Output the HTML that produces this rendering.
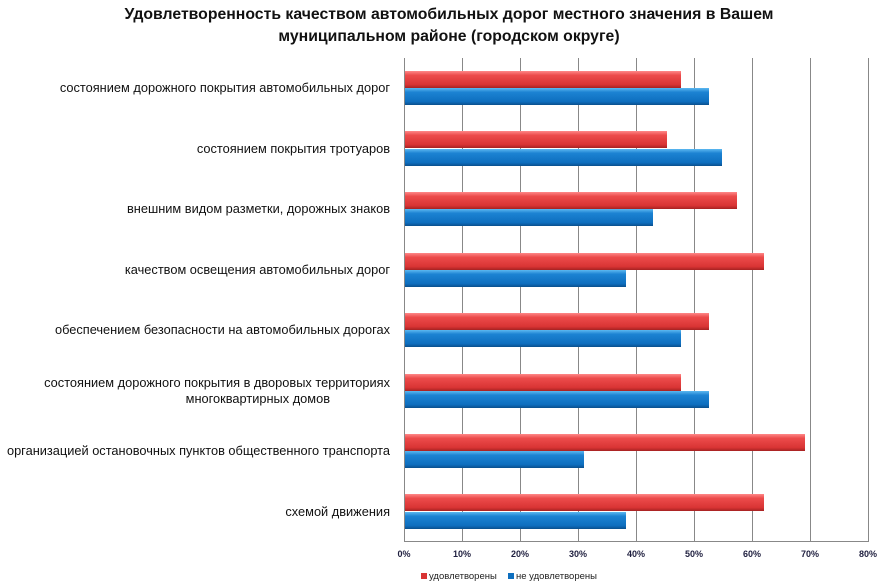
<!DOCTYPE html><html><head><meta charset="utf-8"><style>
body{margin:0;background:#fff;font-family:"Liberation Sans",sans-serif}
.wrap{position:relative;width:886px;height:587px;overflow:hidden}
.t{position:absolute;left:0;width:898px;text-align:center;font-weight:bold;font-size:15.8px;color:#111;line-height:22px;top:4px}
.lab{position:absolute;right:496px;font-size:12.8px;color:#111;text-align:right;line-height:16px;white-space:nowrap}
.tick{position:absolute;top:549px;font-size:9px;font-weight:bold;color:#1f1f3f;width:40px;margin-left:-20px;text-align:center}
.leg{position:absolute;top:571px;font-size:9.5px;color:#222}
.sq{display:inline-block;width:6px;height:6px;margin-right:2px}
</style></head><body><div class="wrap">
<div class="t">Удовлетворенность качеством автомобильных дорог местного значения в Вашем<br>муниципальном районе (городском округе)</div>
<svg width="886" height="587" style="position:absolute;left:0;top:0">
<defs>
<linearGradient id="r" x1="0" y1="0" x2="0" y2="1"><stop offset="0" stop-color="#f88"/><stop offset=".25" stop-color="#ec4b4b"/><stop offset=".8" stop-color="#d93434"/><stop offset="1" stop-color="#a52222"/></linearGradient>
<linearGradient id="b" x1="0" y1="0" x2="0" y2="1"><stop offset="0" stop-color="#5cb8f0"/><stop offset=".25" stop-color="#1c82d2"/><stop offset=".8" stop-color="#0e6fbf"/><stop offset="1" stop-color="#0a4f8c"/></linearGradient>
</defs>
<g stroke="#888" stroke-width="1">
<line x1="404.5" y1="58" x2="404.5" y2="541"/><line x1="462.5" y1="58" x2="462.5" y2="541"/><line x1="520.5" y1="58" x2="520.5" y2="541"/><line x1="578.5" y1="58" x2="578.5" y2="541"/><line x1="636.5" y1="58" x2="636.5" y2="541"/><line x1="694.5" y1="58" x2="694.5" y2="541"/><line x1="752.5" y1="58" x2="752.5" y2="541"/><line x1="810.5" y1="58" x2="810.5" y2="541"/><line x1="868.5" y1="58" x2="868.5" y2="541"/>
<line x1="404" y1="541.5" x2="869" y2="541.5"/>
</g>
<g>
<rect x="405" y="71" width="276" height="17" fill="url(#r)"/><rect x="405" y="88" width="304" height="17" fill="url(#b)"/>
<rect x="405" y="131" width="262" height="17" fill="url(#r)"/><rect x="405" y="149" width="317" height="17" fill="url(#b)"/>
<rect x="405" y="192" width="332" height="17" fill="url(#r)"/><rect x="405" y="209" width="248" height="17" fill="url(#b)"/>
<rect x="405" y="253" width="359" height="17" fill="url(#r)"/><rect x="405" y="270" width="221" height="17" fill="url(#b)"/>
<rect x="405" y="313" width="304" height="17" fill="url(#r)"/><rect x="405" y="330" width="276" height="17" fill="url(#b)"/>
<rect x="405" y="374" width="276" height="17" fill="url(#r)"/><rect x="405" y="391" width="304" height="17" fill="url(#b)"/>
<rect x="405" y="434" width="400" height="17" fill="url(#r)"/><rect x="405" y="451" width="179" height="17" fill="url(#b)"/>
<rect x="405" y="494" width="359" height="17" fill="url(#r)"/><rect x="405" y="512" width="221" height="17" fill="url(#b)"/>
</g></svg>
<div class="lab" style="top:80px">состоянием дорожного покрытия автомобильных дорог</div>
<div class="lab" style="top:141px">состоянием покрытия тротуаров</div>
<div class="lab" style="top:201px">внешним видом разметки, дорожных знаков</div>
<div class="lab" style="top:262px">качеством освещения автомобильных дорог</div>
<div class="lab" style="top:322px">обеспечением безопасности на автомобильных дорогах</div>
<div class="lab" style="top:375px">состоянием дорожного покрытия в дворовых территориях<br><span style="margin-right:60px">многоквартирных домов</span></div>
<div class="lab" style="top:443px">организацией остановочных пунктов общественного транспорта</div>
<div class="lab" style="top:504px">схемой движения</div>
<div class="tick" style="left:404px">0%</div><div class="tick" style="left:462px">10%</div><div class="tick" style="left:520px">20%</div><div class="tick" style="left:578px">30%</div><div class="tick" style="left:636px">40%</div><div class="tick" style="left:694px">50%</div><div class="tick" style="left:752px">60%</div><div class="tick" style="left:810px">70%</div><div class="tick" style="left:868px">80%</div>
<div class="leg" style="left:421px"><span class="sq" style="background:#d93434"></span>удовлетворены</div>
<div class="leg" style="left:508px"><span class="sq" style="background:#0e6fbf"></span>не удовлетворены</div>
</div></body></html>
